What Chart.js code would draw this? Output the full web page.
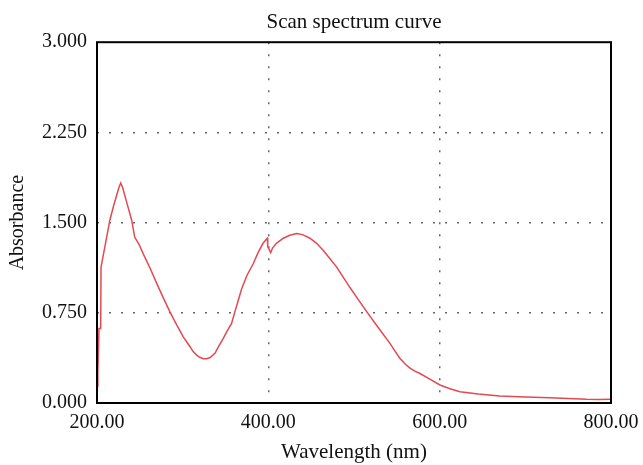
<!DOCTYPE html>
<html>
<head>
<meta charset="utf-8">
<script src="https://cdn.jsdelivr.net/npm/chart.js@4/dist/chart.umd.min.js"></script>
<style>
html,body{margin:0;padding:0;background:#fff;}
#wrap{width:643px;height:465px;}
</style>
</head>
<body>
<div id="wrap"><canvas id="c" width="643" height="465"></canvas></div>
<script>
const chartTitle = "Scan spectrum curve";
const xTitle = "Wavelength (nm)";
const yTitle = "Absorbance";
const xTicks = [200, 400, 600, 800];
const yTicks = [0, 0.75, 1.5, 2.25, 3.0];
const wavelength = [200, 201, 202.3, 204.3, 204.7, 210, 215, 219, 223, 225.5, 227.7, 230, 235, 240.5, 244, 249, 254, 262, 269.7, 277, 285, 293, 300.7, 305, 308.6, 312, 316, 320, 324, 328, 332, 337.7, 342, 347.4, 352, 357, 361, 365, 369, 375, 382.5, 388, 394, 399, 399.3, 402.7, 405, 409.8, 417.5, 425, 433, 440, 448.6, 456, 464, 472, 479.8, 487, 495.3, 505, 514.8, 528, 542, 548, 553.7, 560, 565.4, 571, 577, 588, 600.4, 612, 623.7, 645, 670, 700, 728.8, 750, 771.6, 785, 800];
const absorbance = [0.14, 0.25, 0.62, 0.62, 1.13, 1.33, 1.52, 1.63, 1.73, 1.79, 1.83, 1.79, 1.66, 1.52, 1.38, 1.32, 1.24, 1.12, 0.995, 0.88, 0.76, 0.65, 0.55, 0.505, 0.468, 0.43, 0.40, 0.38, 0.368, 0.368, 0.378, 0.413, 0.47, 0.538, 0.6, 0.66, 0.76, 0.856, 0.953, 1.06, 1.16, 1.25, 1.33, 1.37, 1.30, 1.25, 1.29, 1.33, 1.37, 1.395, 1.41, 1.40, 1.37, 1.33, 1.27, 1.2, 1.13, 1.05, 0.96, 0.86, 0.76, 0.63, 0.496, 0.43, 0.37, 0.322, 0.29, 0.265, 0.245, 0.2, 0.15, 0.118, 0.094, 0.074, 0.058, 0.05, 0.044, 0.038, 0.031, 0.03, 0.031];

const points = wavelength.map((w, i) => ({x: w, y: absorbance[i]}));
const serif = "'Liberation Serif', 'DejaVu Serif', serif";

const boxPlugin = {
  id: 'box',
  afterDraw(chart) {
    const a = chart.chartArea, ctx = chart.ctx;
    ctx.save();
    ctx.strokeStyle = '#000';
    ctx.lineWidth = 2;
    ctx.strokeRect(a.left, a.top, a.right - a.left, a.bottom - a.top);
    ctx.restore();
  }
};

new Chart(document.getElementById('c'), {
  type: 'line',
  data: {
    datasets: [{
      data: points,
      borderColor: 'rgb(228,72,80)',
      borderWidth: 1.5,
      pointRadius: 0,
      tension: 0,
      fill: false
    }]
  },
  options: {
    responsive: false,
    animation: false,
    layout: {padding: {left: 0, right: 32, top: 0, bottom: 0}},
    plugins: {
      legend: {display: false},
      tooltip: {enabled: false},
      title: {
        display: true,
        text: chartTitle,
        fullSize: false,
        color: '#111',
        font: {family: serif, size: 21, weight: 'normal'},
        padding: {top: 10, bottom: 7}
      }
    },
    scales: {
      x: {
        type: 'linear',
        min: xTicks[0],
        max: xTicks[xTicks.length - 1],
        afterBuildTicks: s => { s.ticks = xTicks.map(v => ({value: v})); },
        afterFit: s => { s.height = 62; s.paddingLeft = 0; s.paddingRight = 0; },
        ticks: {
          color: '#111',
          font: {family: serif, size: 20},
          padding: 8,
          maxRotation: 0,
          callback: v => Number(v).toFixed(2)
        },
        grid: {
          drawTicks: false,
          lineWidth: 1.5,
          color: ctx => (ctx.tick && (ctx.tick.value === xTicks[0] || ctx.tick.value === xTicks[xTicks.length - 1])) ? 'rgba(0,0,0,0)' : '#666'
        },
        border: {display: false, dash: [2, 10]},
        title: {
          display: true,
          text: xTitle,
          color: '#111',
          font: {family: serif, size: 21},
          padding: {top: 0, bottom: 0}
        }
      },
      y: {
        type: 'linear',
        min: yTicks[0],
        max: yTicks[yTicks.length - 1],
        afterBuildTicks: s => { s.ticks = yTicks.map(v => ({value: v})); },
        afterFit: s => { s.width = 97; s.paddingTop = 0; s.paddingBottom = 0; },
        ticks: {
          color: '#111',
          font: {family: serif, size: 20},
          padding: 10,
          callback: v => Number(v).toFixed(3)
        },
        grid: {
          drawTicks: false,
          lineWidth: 1.5,
          color: ctx => (ctx.tick && (ctx.tick.value === yTicks[0] || ctx.tick.value === yTicks[yTicks.length - 1])) ? 'rgba(0,0,0,0)' : '#666'
        },
        border: {display: false, dash: [2, 10]},
        title: {
          display: true,
          text: yTitle,
          color: '#111',
          font: {family: serif, size: 20},
          padding: {top: 6, bottom: 0}
        }
      }
    }
  },
  plugins: [boxPlugin]
});
</script>
</body>
</html>
